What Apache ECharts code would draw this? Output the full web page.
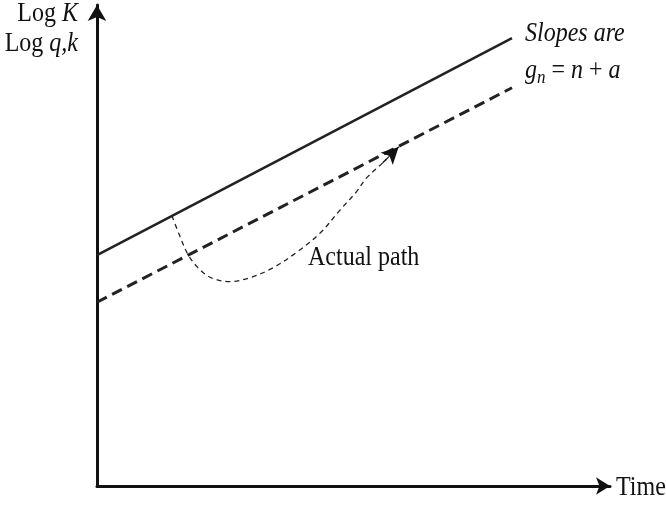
<!DOCTYPE html>
<html>
<head>
<meta charset="utf-8">
<script src="https://cdn.jsdelivr.net/npm/echarts@6/dist/echarts.min.js"></script>
<style>
html,body{margin:0;padding:0;background:#fff;}
#chart{width:666px;height:505px;}
</style>
</head>
<body>
<div id="chart"></div>
<script>
// Steady-state path for log K (solid) and log q,k (dashed); x = time, y = log level
var steadyKStart = [0, 4.80];
var steadyKEnd = [8.09, 9.31];
var steadyQStart = [0, 3.82];
var steadyQEnd = [8.09, 8.28];
// Actual path (dotted)
var actualX = [1.46, 1.62, 1.78, 1.95, 2.14, 2.33, 2.59, 2.98, 3.42, 3.88, 4.35, 4.74, 5.06, 5.25, 5.57, 5.88];
var actualY = [5.62, 5.18, 4.80, 4.56, 4.38, 4.29, 4.25, 4.33, 4.53, 4.85, 5.26, 5.74, 6.12, 6.40, 6.72, 7.05];

var actualData = actualX.map(function(x, i){ return [x, actualY[i]]; });
var n = actualData.length;

var chart = echarts.init(document.getElementById('chart'));
var serif = '"Liberation Serif", "DejaVu Serif", serif';
var txtCol = '#111';
var tScale = 1.1;

function txt(opt) {
  opt.type = 'text';
  opt.scaleY = tScale;
  return opt;
}

chart.setOption({
  animation: false,
  grid: {left: 97, right: 56, top: 5, bottom: 19},
  xAxis: {
    type: 'value', min: 0, max: 10,
    axisLine: {show: true, lineStyle: {color: '#111', width: 3}, symbol: ['none', 'arrow'], symbolSize: [13, 14]},
    axisTick: {show: false}, axisLabel: {show: false}, splitLine: {show: false}
  },
  yAxis: {
    type: 'value', min: 0, max: 10,
    axisLine: {show: true, lineStyle: {color: '#111', width: 3}, symbol: ['none', 'arrow'], symbolSize: [14, 16]},
    axisTick: {show: false}, axisLabel: {show: false}, splitLine: {show: false}
  },
  series: [
    {
      type: 'line', data: [steadyKStart, steadyKEnd], symbol: 'none',
      lineStyle: {color: '#222', width: 2.5}
    },
    {
      type: 'line', data: [steadyQStart, steadyQEnd], symbol: 'none',
      lineStyle: {color: '#222', width: 3, type: [11, 6]}
    },
    {
      type: 'line', data: actualData, symbol: 'none', smooth: 0.35,
      lineStyle: {color: '#222', width: 1.3, type: [5, 4]},
      markLine: {
        silent: true, animation: false,
        symbol: ['none', 'arrow'], symbolSize: [13, 17],
        label: {show: false},
        lineStyle: {color: '#111', width: 1.3, type: [5, 4]},
        data: [[{coord: actualData[n - 2]}, {coord: actualData[n - 1]}]]
      }
    }
  ],
  graphic: [
    txt({right: 666 - 78, top: 1, style: {
      text: 'Log {i|K}', font: '24px ' + serif, fill: txtCol,
      rich: {i: {fontStyle: 'italic', fontSize: 24, fontFamily: serif, fill: txtCol}}
    }}),
    txt({right: 666 - 78, top: 31, style: {
      text: 'Log {i|q,k}', font: '24px ' + serif, fill: txtCol,
      rich: {i: {fontStyle: 'italic', fontSize: 24, fontFamily: serif, fill: txtCol}}
    }}),
    txt({left: 525, top: 21, style: {
      text: 'Slopes are', font: 'italic 24px ' + serif, fill: txtCol
    }}),
    txt({left: 525, top: 58, style: {
      text: '{i|g}{s|n} = {i|n} + {i|a}', font: '24px ' + serif, fill: txtCol,
      rich: {
        i: {fontStyle: 'italic', fontSize: 24, fontFamily: serif, fill: txtCol},
        s: {fontStyle: 'italic', fontSize: 17, fontFamily: serif, fill: txtCol, padding: [12, 0, 0, 0]}
      }
    }}),
    txt({left: 308, top: 245, style: {
      text: 'Actual path', font: '24px ' + serif, fill: txtCol
    }}),
    txt({left: 616, top: 475, style: {
      text: 'Time', font: '24px ' + serif, fill: txtCol
    }})
  ]
});
</script>
</body>
</html>
